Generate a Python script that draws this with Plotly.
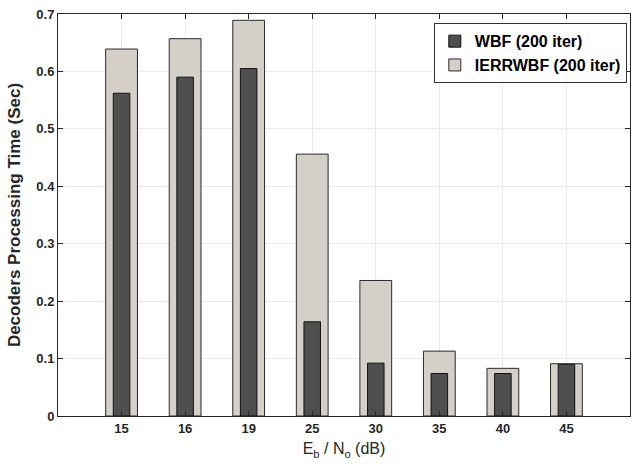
import plotly.graph_objects as go

categories = ["15", "16", "19", "25", "30", "35", "40", "45"]
wbf = [0.562, 0.590, 0.605, 0.164, 0.092, 0.074, 0.074, 0.090]
ierrwbf = [0.639, 0.657, 0.689, 0.456, 0.236, 0.113, 0.083, 0.091]
yticks = [0, 0.1, 0.2, 0.3, 0.4, 0.5, 0.6, 0.7]
ytick_labels = ["0", "0.1", "0.2", "0.3", "0.4", "0.5", "0.6", "0.7"]

fig = go.Figure()
fig.add_trace(go.Bar(
    x=categories, y=ierrwbf, name="IERRWBF (200 iter)", width=0.5,
    marker=dict(color="#d4d0c8", line=dict(color="#2a2a2a", width=1)),
    legendrank=2,
))
fig.add_trace(go.Bar(
    x=categories, y=wbf, name="WBF (200 iter)", width=0.26,
    marker=dict(color="#4f4f4f", line=dict(color="#111111", width=1)),
    legendrank=1,
))

font_family = "Liberation Sans, Arial, sans-serif"
fig.update_layout(
    width=633, height=471,
    margin=dict(l=58, r=3, t=14, b=55, autoexpand=False),
    barmode="overlay",
    plot_bgcolor="white", paper_bgcolor="white",
    font=dict(family=font_family, color="#262626"),
    legend=dict(
        x=0.657, y=0.977, xanchor="left", yanchor="top",
        bgcolor="white", bordercolor="#333333", borderwidth=1,
        font=dict(size=16, family=font_family, color="#000000", weight="bold"),
        tracegroupgap=0, itemwidth=30,
    ),
    xaxis=dict(
        type="category", range=[-1, 8],
        tickvals=categories, ticktext=categories,
        showgrid=True, gridcolor="#ebebeb", gridwidth=1,
        showline=True, linecolor="#262626", linewidth=1, mirror="ticks",
        ticks="inside", ticklen=5, tickcolor="#262626",
        tickfont=dict(size=13, family=font_family, color="#262626", weight="bold"),
        title=dict(text="E<sub>b</sub> / N<sub>o</sub> (dB)", font=dict(size=16, family=font_family, color="#262626"), standoff=8),
        automargin=False,
    ),
    yaxis=dict(
        range=[0, 0.7], tickvals=yticks, ticktext=ytick_labels,
        showgrid=True, gridcolor="#ebebeb", gridwidth=1,
        showline=True, linecolor="#262626", linewidth=1, mirror="ticks",
        ticks="inside", ticklen=5, tickcolor="#262626",
        tickfont=dict(size=13, family=font_family, color="#262626", weight="bold"),
        title=dict(text="Decoders Processing Time (Sec)", font=dict(size=17, family=font_family, color="#262626", weight="bold"), standoff=11),
        zeroline=False, automargin=False,
    ),
)

fig.write_html(
    "out.html",
    config={"displayModeBar": False},
    post_script="document.body.style.margin='0';document.body.style.overflow='hidden';",
)
